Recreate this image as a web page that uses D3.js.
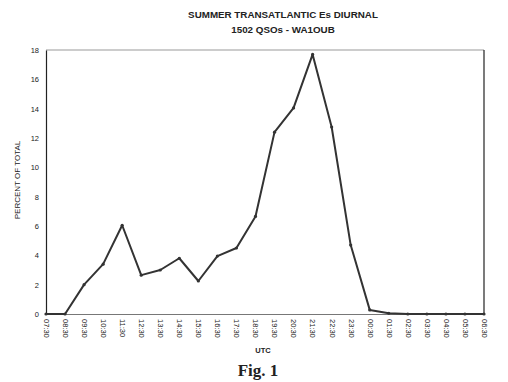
<!DOCTYPE html>
<html>
<head>
<meta charset="utf-8">
<script src="https://cdn.jsdelivr.net/npm/d3@7"></script>
<style>
  body { margin: 0; background: #fff; }
  svg { display: block; font-family: "Liberation Sans", Arial, sans-serif; }
</style>
</head>
<body>
<div id="chart"></div>
<script>
// hours (UTC) and percent of QSOs
const hours = ["07:30", "08:30", "09:30", "10:30", "11:30", "12:30", "13:30", "14:30",
  "15:30", "16:30", "17:30", "18:30", "19:30", "20:30", "21:30", "22:30", "23:30",
  "00:30", "01:30", "02:30", "03:30", "04:30", "05:30", "06:30"];
const percent = [0, 0, 2.0, 3.4, 6.05, 2.65, 3.0, 3.8, 2.25, 3.95, 4.5, 6.65, 12.4,
  14.05, 17.7, 12.75, 4.7, 0.28, 0.05, 0, 0, 0, 0, 0];
const yTicks = [0, 2, 4, 6, 8, 10, 12, 14, 16, 18];

const width = 508, height = 382;
const box = { left: 46, right: 484, top: 50, bottom: 314 };

const svg = d3.select("#chart").append("svg")
  .attr("width", width)
  .attr("height", height);

const x = d3.scalePoint().domain(hours).range([box.left, box.right]);
const y = d3.scaleLinear().domain([0, 18]).range([box.bottom, box.top]);

// titles
svg.append("text")
  .attr("x", 283).attr("y", 18)
  .attr("text-anchor", "middle")
  .attr("style", "font-size: 9.8px; font-weight: bold; fill: #222;")
  .text("SUMMER TRANSATLANTIC Es DIURNAL");
svg.append("text")
  .attr("x", 283).attr("y", 33)
  .attr("text-anchor", "middle")
  .attr("style", "font-size: 9.8px; font-weight: bold; fill: #222;")
  .text("1502 QSOs - WA1OUB");

// frame
svg.append("line")
  .attr("x1", box.left).attr("x2", box.right)
  .attr("y1", box.top).attr("y2", box.top)
  .attr("style", "stroke: #999; stroke-width: 1;");
svg.append("line")
  .attr("x1", box.right).attr("x2", box.right)
  .attr("y1", box.top).attr("y2", box.bottom)
  .attr("style", "stroke: #222; stroke-width: 1.2;");

// y axis
const yAxis = d3.axisLeft(y).tickValues(yTicks).tickSize(0).tickPadding(7);
const gy = svg.append("g")
  .attr("transform", "translate(" + box.left + ",0)")
  .call(yAxis);
gy.select(".domain").attr("style", "stroke: #222; stroke-width: 1.2;");
gy.selectAll("text").attr("style", "font-size: 7.5px; fill: #222;");

// x axis
const xAxis = d3.axisBottom(x).tickSize(0).tickPadding(0);
const gx = svg.append("g")
  .attr("transform", "translate(0," + box.bottom + ")")
  .call(xAxis);
gx.select(".domain").attr("style", "stroke: #777; stroke-width: 1;");
gx.selectAll("text")
  .attr("style", "font-size: 7.5px; fill: #222;")
  .attr("text-anchor", "start")
  .attr("dy", "0.35em")
  .attr("transform", "translate(0,5) rotate(90)");

// axis titles
svg.append("text")
  .attr("x", 20).attr("y", 180)
  .attr("text-anchor", "middle")
  .attr("transform", "rotate(-90,20,180)")
  .attr("style", "font-size: 8px; fill: #222;")
  .text("PERCENT OF TOTAL");
svg.append("text")
  .attr("x", 263).attr("y", 353)
  .attr("text-anchor", "middle")
  .attr("style", "font-size: 7.5px; font-weight: bold; fill: #222;")
  .text("UTC");
svg.append("text")
  .attr("x", 258).attr("y", 376)
  .attr("text-anchor", "middle")
  .attr("style", "font-family: 'Liberation Serif', 'Times New Roman', serif; font-size: 17px; font-weight: bold; fill: #222;")
  .text("Fig. 1");

// data line
const line = d3.line()
  .x((d, i) => x(hours[i]))
  .y((d) => y(d));

svg.append("path")
  .datum(percent)
  .attr("d", line)
  .attr("style", "fill: none; stroke: #333; stroke-width: 2; stroke-linejoin: round;");

svg.selectAll(".pt")
  .data(percent)
  .enter().append("circle")
  .attr("class", "pt")
  .attr("cx", (d, i) => x(hours[i]))
  .attr("cy", (d) => y(d))
  .attr("r", 1.6)
  .attr("fill", "#333");
</script>
</body>
</html>
